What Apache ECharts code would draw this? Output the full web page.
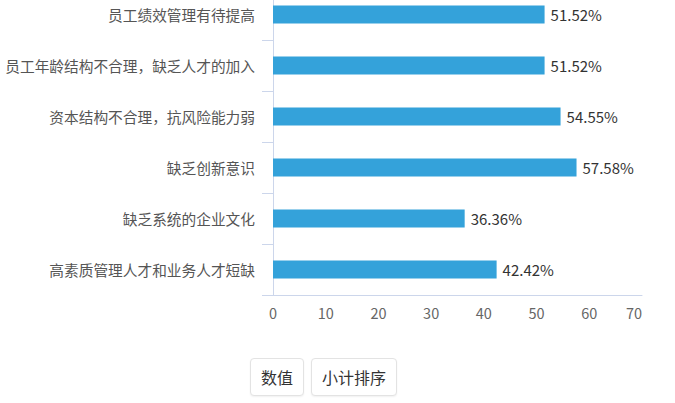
<!DOCTYPE html>
<html>
<head>
<meta charset="utf-8">
<script src="https://cdn.jsdelivr.net/npm/echarts@6/dist/echarts.min.js"></script>
<style>
  html, body { margin: 0; padding: 0; background: #fff; }
  #wrap { position: relative; width: 675px; height: 403px; overflow: hidden; }
  #chart { position: absolute; left: 0; top: -11px; width: 675px; height: 414px; }
  .btn {
    position: absolute; top: 358px; height: 38px; box-sizing: border-box;
    border: 1px solid #e3e3e3; border-radius: 4px; background: #fff;
    font-family: "Noto Sans CJK SC", sans-serif; font-size: 16px; color: #333;
    line-height: 36px; text-align: center;
    box-shadow: 0 1px 2px rgba(0,0,0,0.06);
  }
</style>
</head>
<body>
<div id="wrap">
  <div id="chart"></div>
  <div class="btn" style="left:250px;width:54px;">数值</div>
  <div class="btn" style="left:311px;width:86px;">小计排序</div>
</div>
<script>
var categories = [
  '员工绩效管理有待提高',
  '员工年龄结构不合理，缺乏人才的加入',
  '资本结构不合理，抗风险能力弱',
  '缺乏创新意识',
  '缺乏系统的企业文化',
  '高素质管理人才和业务人才短缺'
];
var values = [51.52, 51.52, 54.55, 57.58, 36.36, 42.42];
var xTicks = { min: 0, max: 70, interval: 10 };

var font = '"Noto Sans CJK SC", sans-serif';
var axisColor = '#ccd6eb';

// chart box starts 11px above the page, so the top band is partly cut off like the original
var chart = echarts.init(document.getElementById('chart'), null, { renderer: 'svg' });
chart.setOption({
  animation: false,
  grid: { left: 273, right: 33, top: 0, bottom: 108 },
  xAxis: {
    type: 'value',
    min: xTicks.min, max: xTicks.max, interval: xTicks.interval,
    splitLine: { show: false },
    axisLine: { show: true, lineStyle: { color: axisColor } },
    axisTick: { show: false },
    axisLabel: { color: '#666', fontSize: 14.5, fontFamily: font, margin: 10, alignMaxLabel: 'right' }
  },
  yAxis: {
    type: 'category',
    inverse: true,
    data: categories,
    axisLine: { show: true, lineStyle: { color: axisColor } },
    axisTick: { show: true, length: 11, lineStyle: { color: axisColor } },
    axisLabel: { color: '#555', fontSize: 14.7, fontFamily: font, margin: 18 }
  },
  series: [{
    type: 'bar',
    data: values,
    barWidth: 18,
    itemStyle: { color: '#34a2da' },
    label: {
      show: true, position: 'right', distance: 6,
      color: '#333', fontSize: 15, fontFamily: font,
      formatter: function (p) { return p.value.toFixed(2) + '%'; }
    }
  }]
});
</script>
</body>
</html>
